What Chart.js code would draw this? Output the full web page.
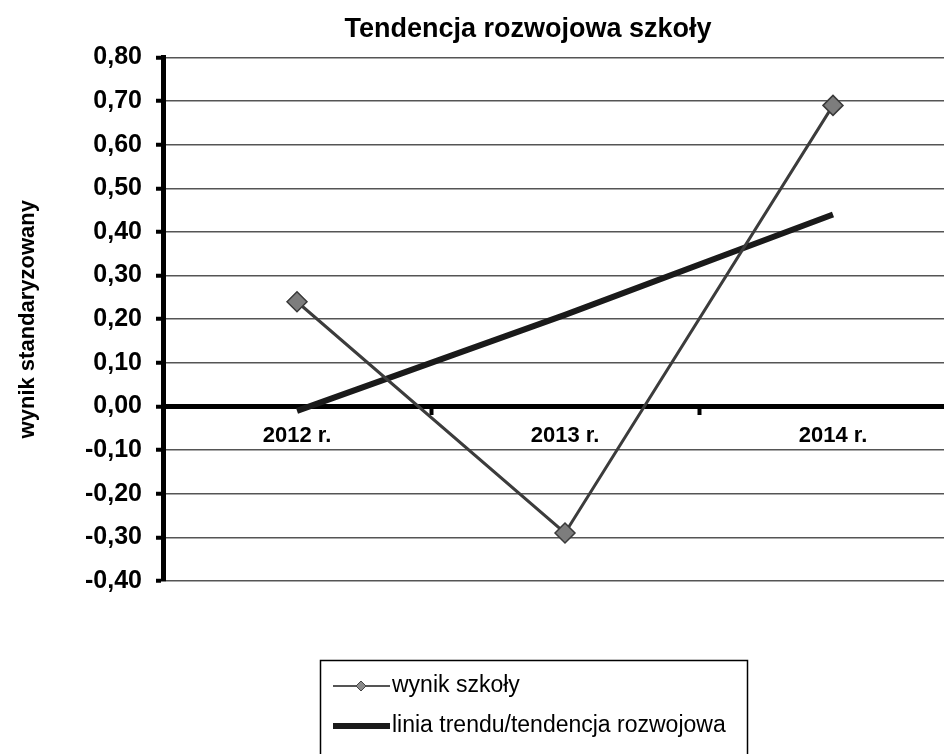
<!DOCTYPE html>
<html>
<head>
<meta charset="utf-8">
<script src="https://cdn.jsdelivr.net/npm/chart.js@4/dist/chart.umd.min.js"></script>
<style>
  html, body { margin: 0; padding: 0; background: #fff; overflow: hidden; width: 944px; height: 754px; }
  canvas { display: block; }
</style>
</head>
<body>
<canvas id="c" width="1056" height="754"></canvas>
<script>
const chartTitle = 'Tendencja rozwojowa szkoły';
const yAxisTitle = 'wynik standaryzowany';
const categories = ['2012 r.', '2013 r.', '2014 r.'];
const wynikSzkoly = [0.24, -0.29, 0.69];
const liniaTrendu = [-0.01, 0.21, 0.44];
const seriesLabels = ['wynik szkoły', 'linia trendu/tendencja rozwojowa'];
const yMin = -0.4, yMax = 0.8, yStep = 0.1;

const FONT = '"Liberation Sans", Arial, sans-serif';

// centre the title over the original (wider, cropped) chart frame
const titleShift = {
  id: 'titleShift',
  afterLayout(chart) {
    const t = chart.titleBlock;
    if (t) { t.left = 89; t.right = 967; t.width = 878; }
  }
};

const boxLegend = {
  id: 'boxLegend',
  afterDraw(chart) {
    const ctx = chart.ctx;
    ctx.save();
    ctx.strokeStyle = '#000';
    ctx.lineWidth = 1.5;
    ctx.strokeRect(320.5, 660.5, 427, 120);
    const ds = chart.data.datasets;
    // item 1
    let y = 686;
    ctx.strokeStyle = '#555';
    ctx.lineWidth = 2;
    ctx.beginPath(); ctx.moveTo(333, y); ctx.lineTo(390, y); ctx.stroke();
    ctx.fillStyle = '#8a8a8a';
    ctx.strokeStyle = '#444';
    ctx.lineWidth = 1;
    ctx.beginPath();
    ctx.moveTo(361, y - 5); ctx.lineTo(366, y); ctx.lineTo(361, y + 5); ctx.lineTo(356, y);
    ctx.closePath(); ctx.fill(); ctx.stroke();
    ctx.fillStyle = '#000';
    ctx.font = '23px ' + FONT;
    ctx.textBaseline = 'middle';
    ctx.textAlign = 'left';
    ctx.fillText(ds[0].label, 392, y);
    // item 2
    y = 726;
    ctx.strokeStyle = '#1a1a1a';
    ctx.lineWidth = 6;
    ctx.beginPath(); ctx.moveTo(333, y); ctx.lineTo(390, y); ctx.stroke();
    ctx.fillText(ds[1].label, 392, y);
    ctx.restore();
  }
};

new Chart(document.getElementById('c'), {
  type: 'line',
  data: {
    labels: categories,
    datasets: [
      {
        label: seriesLabels[0],
        data: wynikSzkoly,
        borderColor: '#3c3c3c',
        borderWidth: 3,
        pointStyle: 'rectRot',
        pointRadius: 10,
        pointHoverRadius: 10,
        pointBackgroundColor: '#7d7d7d',
        pointBorderColor: '#3a3a3a',
        pointBorderWidth: 1.5,
        tension: 0
      },
      {
        label: seriesLabels[1],
        data: liniaTrendu,
        borderColor: '#1a1a1a',
        borderWidth: 6,
        pointRadius: 0,
        pointHoverRadius: 0,
        tension: 0
      }
    ]
  },
  options: {
    responsive: false,
    animation: false,
    devicePixelRatio: 1,
    layout: { padding: { left: 0, right: 89, top: 0, bottom: 173 } },
    plugins: {
      legend: { display: false },
      tooltip: { enabled: false },
      title: {
        display: true,
        text: chartTitle,
        color: '#000',
        font: { family: FONT, size: 27, weight: 'bold' },
        padding: { top: 13, bottom: 12 }
      }
    },
    scales: {
      x: {
        type: 'category',
        position: { y: 0 },
        offset: true,
        grid: {
          offset: true,
          drawOnChartArea: false,
          drawTicks: true,
          tickLength: 6,
          tickColor: '#000',
          tickWidth: 4
        },
        border: { display: true, color: '#000', width: 5 },
        ticks: {
          color: '#000',
          font: { family: FONT, size: 22, weight: 'bold' },
          padding: 10,
          maxRotation: 0
        }
      },
      y: {
        min: yMin,
        max: yMax,
        afterFit(scale) { scale.width = 163; },
        grid: {
          color: '#555',
          lineWidth: 1.5,
          drawTicks: true,
          tickLength: 7,
          tickColor: '#000',
          tickWidth: 4
        },
        border: { display: true, color: '#000', width: 5 },
        ticks: {
          stepSize: yStep,
          color: '#000',
          padding: 14,
          font: { family: FONT, size: 25, weight: 'bold' },
          callback: (v) => (Math.abs(v) < 1e-9 ? 0 : v).toFixed(2).replace('.', ',')
        },
        title: {
          display: true,
          text: yAxisTitle,
          color: '#000',
          font: { family: FONT, size: 22, weight: 'bold' },
          padding: { top: 15, bottom: 0 }
        }
      }
    }
  },
  plugins: [titleShift, boxLegend]
});
</script>
</body>
</html>
